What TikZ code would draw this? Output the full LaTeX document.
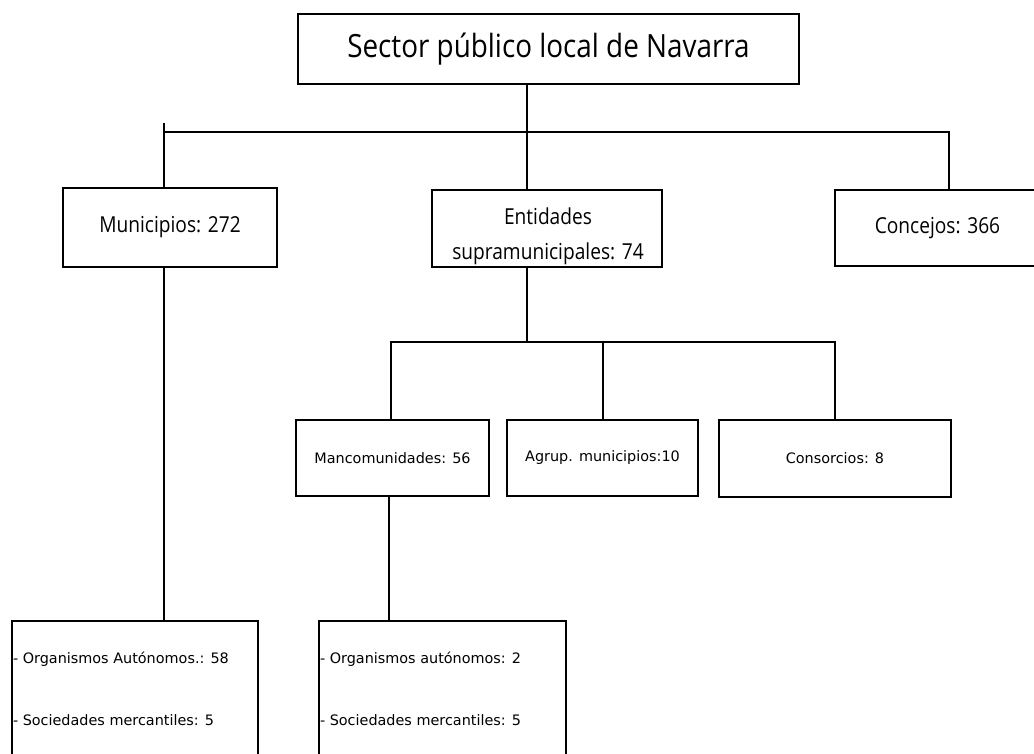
\documentclass[tikz,border=0pt]{standalone}
\usepackage{fontspec}
\setmainfont{DejaVu Sans}
\newfontfamily\condfont[FakeStretch=0.87]{Open Sans}
\newfontfamily\smallfont{DejaVu Sans}

\begin{document}
\begin{tikzpicture}[x=1pt,y=-1pt,line width=2pt,
	box/.style={draw,inner sep=0pt,align=center},
	big/.style={font=\condfont\fontsize{32}{32}\selectfont},
	mid/.style={font=\condfont\fontsize{22}{35}\selectfont},
	small/.style={font=\smallfont\fontsize{14.4}{16}\selectfont}]
	\useasboundingbox (0,0) rectangle (1034,753);
	% top and first level
	\node[box,big,minimum width=501pt,minimum height=70pt] (sector) at (548.5,49) {Sector público local de Navarra};
	\node[box,mid,minimum width=214pt,minimum height=79pt] (munic) at (170,227.5) {Municipios: 272};
	\node[box,minimum width=230pt,minimum height=77pt] (entid) at (547,228.5) {};
	\node[mid,align=center,inner sep=0pt] (entidtxt) at (548,236) {Entidades\\supramunicipales: 74};
	\node[box,mid,minimum width=205pt,minimum height=76pt] (concej) at (937.5,228) {Concejos: 366};
	% second level
	\node[box,small,minimum width=193pt,minimum height=76pt] (manc) at (392.5,458) {Mancomunidades: 56};
	\node[box,small,minimum width=191pt,minimum height=76pt] (agrup) at (602.5,458) {Agrup. municipios:10};
	\node[box,small,minimum width=232pt,minimum height=77pt] (consor) at (835,458.5) {Consorcios: 8};
	% bottom boxes
	\node[box,minimum width=246pt,minimum height=170pt,anchor=north west] (orgmun) at (11,620) {};
	\node[box,minimum width=247pt,minimum height=170pt,anchor=north west] (orgmanc) at (318,620) {};
	\foreach \n/\x/\y/\t in {oa/12/659/Organismos Autónomos.: 58,sa/12/720/Sociedades mercantiles: 5,
		ob/319/659/Organismos autónomos: 2,sb/319/720/Sociedades mercantiles: 5} {
		\node[small,anchor=west,inner sep=0pt] (txt\n) at (\x,\y) {- \t};
	}
	% connectors
	\coordinate (spine) at (527,132);
	\coordinate (stub) at (164,123);
	\coordinate (rightdrop) at (949,132);
	\coordinate (lowbar) at (527,342);
	\coordinate (mancdrop) at (391,342);
	\coordinate (agrupdrop) at (603,342);
	\coordinate (mancdown) at (389,496);
	\draw (sector.south -| spine) -- (spine);
	\draw (stub |- spine) -- (rightdrop) -- (rightdrop |- concej.north);
	\draw (stub) -- (stub |- munic.north);
	\draw (spine) -- (spine |- entid.north);
	\draw (spine |- entid.south) -- (lowbar);
	\draw (mancdrop |- manc.north) -- (mancdrop) -- (mancdrop -| consor.north) -- (consor.north);
	\draw (agrupdrop) -- (agrupdrop |- agrup.north);
	\draw (stub |- munic.south) -- (stub |- orgmun.north);
	\draw (mancdown) -- (mancdown |- orgmanc.north);
\end{tikzpicture}
\end{document}
